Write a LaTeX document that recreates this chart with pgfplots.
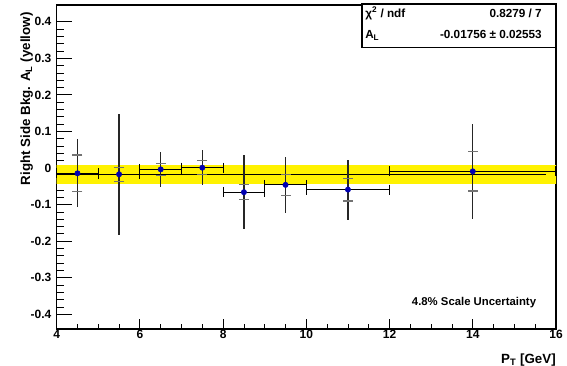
\documentclass[border=0pt]{standalone}
\usepackage{fontspec}
\setmainfont{Liberation Sans}
\usepackage{pgfplots}
\usepackage{pgfplotstable}
\pgfplotsset{compat=1.18}
\definecolor{mblue}{rgb}{0,0,0.7}
\pgfplotstableread{
x    y       ex   eyo   eyi
4.5  -0.0145 0.5  0.093 0.050
5.5  -0.0170 0.5  0.166 0.019
6.5  -0.0036 0.5  0.048 0.017
7.5   0.0010 0.5  0.047 0.019
8.5  -0.0660 0.5  0.102 0.021
9.5  -0.0460 0.5  0.077 0.028
11.0 -0.0590 1.0  0.082 0.031
14.0 -0.0090 2.0  0.129 0.054
}\datatab
\pgfplotsset{common/.style={
  at={(42.5pt,27.75pt)}, anchor=south west,
  scale only axis, width=374.5pt, height=243pt,
  xmin=4, xmax=16, ymin=-0.44, ymax=0.4457,
  tick align=inside,
  every tick/.style={line width=0.6pt, black},
}}
\begin{document}
\begin{tikzpicture}
\useasboundingbox (0,0) rectangle (425.25pt,274.5pt);
\begin{axis}[common,
  axis line style={line width=0.8pt},
  xtick=\empty,
  ytick pos=left,
  major tick length=11.2pt, minor tick length=5.6pt,
  ytick={-0.4,-0.3,-0.2,-0.1,0,0.1,0.2,0.3,0.4},
  yticklabels={-0.4,-0.3,-0.2,-0.1,0,0.1,0.2,0.3,0.4},
  minor y tick num=4,
  yticklabel style={font=\fontsize{9}{10}\selectfont\bfseries, inner sep=0pt, xshift=-3.75pt},
  ylabel={Right Side Bkg. A\textsubscript{L} (yellow)},
  ylabel style={font=\fontsize{10}{12}\selectfont\bfseries, at={(axis description cs:-0.0469,0.978)}, anchor=south east, inner sep=0pt},
]
% fit band
\addplot[draw=none, fill=yellow, forget plot] coordinates {(4,0.00797) (16,0.00797) (16,-0.04309) (4,-0.04309) (4,0.00797)};
% fit line
\addplot[black, line width=1pt, forget plot] coordinates {(4,-0.01756) (15.75,-0.01756)};
% x error lines
\addplot[draw=none, mark=none, forget plot,
  error bars/.cd, x dir=both, x explicit, error mark=none,
  error bar style={draw=black, line width=0.9pt}]
  table[x=x, y=y, x error=ex] {\datatab};
% x error caps
\addplot[only marks, mark=|, mark size=3.75pt, line width=0.9pt, black, forget plot]
  table[x expr=\thisrow{x}-\thisrow{ex}, y=y] {\datatab};
\addplot[only marks, mark=|, mark size=3.75pt, line width=0.9pt, black, forget plot]
  table[x expr=\thisrow{x}+\thisrow{ex}, y=y] {\datatab};
% outer y errors
\addplot[draw=none, mark=none, forget plot,
  error bars/.cd, y dir=both, y explicit, error mark=none,
  error bar style={draw=black!85, line width=1pt}]
  table[x=x, y=y, y error=eyo] {\datatab};
% inner y error ticks
\addplot[only marks, mark=-, mark size=3.75pt, line width=0.9pt, black!55, forget plot]
  table[x=x, y expr=\thisrow{y}+\thisrow{eyi}] {\datatab};
\addplot[only marks, mark=-, mark size=3.75pt, line width=0.9pt, black!55, forget plot]
  table[x=x, y expr=\thisrow{y}-\thisrow{eyi}] {\datatab};
% points
\addplot[only marks, mark=*, mark size=2pt, mark options={fill=mblue, draw=mblue}]
  table[x=x, y=y] {\datatab};
\node[anchor=base, font=\fontsize{8.5}{10}\selectfont\bfseries] at (axis cs:14.03,-0.377) {4.8\% Scale Uncertainty};
\end{axis}
\begin{axis}[common,
  axis line style={draw=none},
  ytick=\empty,
  xtick pos=bottom,
  major tick length=7.3pt, minor tick length=3.7pt,
  xtick={4,6,8,10,12,14,16},
  xticklabels={4,6,8,10,12,14,16},
  minor x tick num=3,
  xticklabel style={font=\fontsize{9}{10}\selectfont\bfseries, inner sep=0pt, yshift=-1pt},
  xlabel={P\textsubscript{T} [GeV]},
  xlabel style={font=\fontsize{10}{12}\selectfont\bfseries, at={(axis description cs:1,0)}, anchor=north east, inner sep=0pt, yshift=-18.75pt},
]
\end{axis}
% stats box
\draw[fill=white, line width=0.8pt] (271.5pt,239pt) rectangle (417pt,271.5pt);
\node[anchor=base west, inner sep=0pt, font=\fontsize{8.8}{10}\selectfont\bfseries] at (273.75pt,261.4pt) {χ\textsuperscript{2} / ndf};
\node[anchor=base east, inner sep=0pt, font=\fontsize{8.8}{10}\selectfont\bfseries] at (406.5pt,261.4pt) {0.8279 / 7};
\node[anchor=base west, inner sep=0pt, font=\fontsize{8.8}{10}\selectfont\bfseries] at (273.75pt,245.25pt) {A\textsubscript{L}};
\node[anchor=base east, inner sep=0pt, font=\fontsize{8.8}{10}\selectfont\bfseries] at (406.5pt,245.25pt) {-0.01756 ± 0.02553};
\end{tikzpicture}
\end{document}
